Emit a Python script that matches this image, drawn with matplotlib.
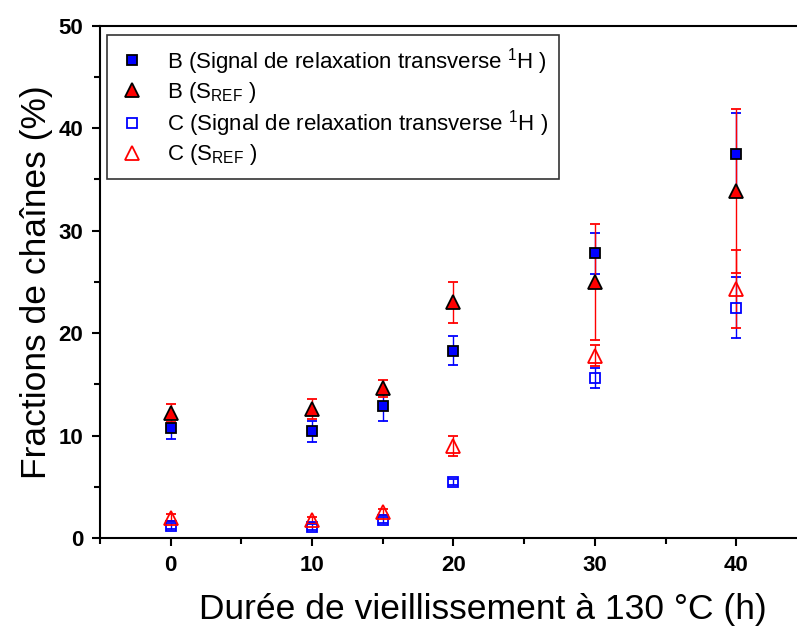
import numpy as np
import matplotlib.pyplot as plt
from matplotlib.lines import Line2D
from matplotlib.ticker import MultipleLocator

plt.rcParams.update({
    "font.family": ["Liberation Sans", "DejaVu Sans"],
    "mathtext.fontset": "custom",
    "mathtext.rm": "Liberation Sans",
    "mathtext.it": "Liberation Sans",
    "mathtext.bf": "Liberation Sans:bold",
})

# Durée de vieillissement (h)
duree = [0, 10, 15, 20, 30, 40]

# Echantillon B
b_signal = [10.7, 10.4, 12.9, 18.3, 27.8, 37.5]
b_signal_err = [1.0, 1.0, 1.5, 1.4, 2.0, 4.0]
b_sref = [12.2, 12.6, 14.6, 23.0, 25.0, 33.9]
b_sref_err = [0.9, 1.0, 0.8, 2.0, 5.7, 8.0]

# Echantillon C
c_signal = [1.2, 1.05, 1.8, 5.45, 15.6, 22.5]
c_signal_err = [0.3, 0.3, 0.3, 0.3, 1.0, 3.0]
c_sref = [2.0, 1.8, 2.5, 9.0, 17.8, 24.3]
c_sref_err = [0.3, 0.3, 0.3, 1.0, 1.0, 3.8]

labels = [
    r"B (Signal de relaxation transverse $^{1}$H )",
    r"B (S$_{\mathrm{REF}}$ )",
    r"C (Signal de relaxation transverse $^{1}$H )",
    r"C (S$_{\mathrm{REF}}$ )",
]

fig = plt.figure(figsize=(7.97, 6.30), dpi=100)
# axes go past the right edge of the picture, like the original export
ax = fig.add_axes([0.1255, 0.146, 0.887, 0.813])

eb = dict(capsize=3.6, elinewidth=1, capthick=1, linestyle="none")

# C series (open markers)
ax.errorbar(duree, c_signal, yerr=c_signal_err, marker="s", ms=7,
            mfc="none", mec="blue", mew=1.3, ecolor="blue", **eb)
ax.errorbar(duree, c_sref, yerr=c_sref_err, marker="^", ms=9.5,
            mfc="none", mec="red", mew=1.3, ecolor="red", **eb)
# B series (filled markers)
ax.errorbar(duree, b_signal, yerr=b_signal_err, marker="s", ms=7,
            mfc="blue", mec="black", mew=1.3, ecolor="blue", **eb)
ax.errorbar(duree, b_sref, yerr=b_sref_err, marker="^", ms=9.5,
            mfc="red", mec="black", mew=1.3, ecolor="red", **eb)

ax.set_xlim(-5, 45)
ax.set_ylim(0, 50)
ax.xaxis.set_major_locator(MultipleLocator(10))
ax.xaxis.set_minor_locator(MultipleLocator(5))
ax.yaxis.set_major_locator(MultipleLocator(10))
ax.yaxis.set_minor_locator(MultipleLocator(5))

for s in ax.spines.values():
    s.set_linewidth(1.5)
ax.spines["right"].set_visible(False)

ax.tick_params(which="major", direction="out", length=6, width=1.5,
               labelsize=16, pad=6)
ax.tick_params(which="minor", direction="out", length=4, width=1.5)
for t in ax.get_xticklabels() + ax.get_yticklabels():
    t.set_fontweight("bold")

ax.set_xlabel("Durée de vieillissement à 130 °C (h)", fontsize=25.5)
ax.xaxis.label.set_va("baseline")
ax.xaxis.set_label_coords(0.541, -0.158)
ax.set_ylabel("Fractions de chaînes (%)", fontsize=25.5)

handles = [
    Line2D([], [], ls="none", marker="s", ms=7, mfc="blue", mec="black", mew=1.3),
    Line2D([], [], ls="none", marker="^", ms=9.5, mfc="red", mec="black", mew=1.3),
    Line2D([], [], ls="none", marker="s", ms=7, mfc="none", mec="blue", mew=1.3),
    Line2D([], [], ls="none", marker="^", ms=9.5, mfc="none", mec="red", mew=1.3),
]
leg = ax.legend(handles, labels, loc="upper left", bbox_to_anchor=(0.010, 0.983),
                fontsize=16, frameon=True, fancybox=False, handlelength=1.2,
                handletextpad=1.0, borderpad=0.5, labelspacing=0.15,
                borderaxespad=0)
leg.get_frame().set_edgecolor("black")
leg.get_frame().set_linewidth(1.2)

fig.savefig("out.png", dpi=100)
plt.close()
